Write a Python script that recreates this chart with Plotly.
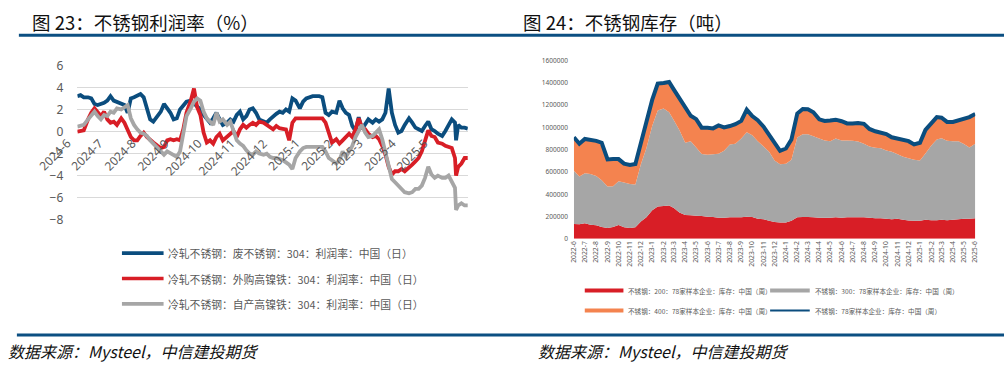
import plotly.graph_objects as go

W, H = 1008, 378

# ---------------- 图23：不锈钢利润率（%） ----------------
profit_dates = [
    "2024-06-01", "2024-06-04", "2024-06-07", "2024-06-11", "2024-06-14", "2024-06-17", "2024-06-20", "2024-06-23", "2024-06-26", "2024-06-29",
    "2024-07-02", "2024-07-05", "2024-07-08", "2024-07-12", "2024-07-15", "2024-07-18", "2024-07-21", "2024-07-24", "2024-07-27", "2024-07-30",
    "2024-08-02", "2024-08-05", "2024-08-08", "2024-08-11", "2024-08-15", "2024-08-18", "2024-08-21", "2024-08-24", "2024-08-27", "2024-08-30",
    "2024-09-02", "2024-09-05", "2024-09-08", "2024-09-11", "2024-09-15", "2024-09-18", "2024-09-21", "2024-09-24", "2024-09-27", "2024-09-30",
    "2024-10-03", "2024-10-06", "2024-10-09", "2024-10-12", "2024-10-15", "2024-10-19", "2024-10-22", "2024-10-25", "2024-10-28", "2024-10-31",
    "2024-11-03", "2024-11-06", "2024-11-09", "2024-11-12", "2024-11-15", "2024-11-18", "2024-11-22", "2024-11-25", "2024-11-28", "2024-12-01",
    "2024-12-04", "2024-12-07", "2024-12-10", "2024-12-13", "2024-12-16", "2024-12-19", "2024-12-22", "2024-12-26", "2024-12-29", "2025-01-01",
    "2025-01-04", "2025-01-07", "2025-01-10", "2025-01-13", "2025-01-16", "2025-01-19", "2025-01-22", "2025-01-25", "2025-01-29", "2025-02-01",
    "2025-02-04", "2025-02-07", "2025-02-10", "2025-02-13", "2025-02-16", "2025-02-19", "2025-02-22", "2025-02-25", "2025-02-28", "2025-03-04",
    "2025-03-07", "2025-03-10", "2025-03-13", "2025-03-16", "2025-03-19", "2025-03-22", "2025-03-25", "2025-03-28", "2025-03-31", "2025-04-03",
    "2025-04-07", "2025-04-10", "2025-04-13", "2025-04-16", "2025-04-19", "2025-04-22", "2025-04-25", "2025-04-28", "2025-05-01", "2025-05-04",
    "2025-05-08", "2025-05-11", "2025-05-14", "2025-05-17", "2025-05-20", "2025-05-21", "2025-05-23", "2025-05-26", "2025-05-29", "2025-06-01",
]
profit_scrap = [  # 冷轧不锈钢：废不锈钢：304：利润率
    3.2, 3.3, 3.1, 3.1, 3.0, 2.5, 2.4, 2.5, 2.6, 2.8,
    3.2, 2.8, 2.7, 2.5, 2.4, 1.7, 3.0, 3.1, 3.3, 3.4,
    3.1, 2.0, 1.1, 0.9, 1.5, 1.8, 2.5, 2.1, 1.7, 1.1,
    1.2, 2.0, 2.4, 2.7, 2.8, 2.5, 2.2, 2.0, 1.5, 1.1,
    0.8, 1.2, 1.7, 1.1, 0.6, 0.8, 1.1, 0.9, 1.5, 1.8,
    1.1, 1.4, 2.0, 2.1, 1.7, 1.1, 0.9, 0.8, 1.1, 1.4,
    1.6, 1.8, 1.7, 2.0, 1.8, 3.0, 2.8, 2.1, 2.7, 3.0,
    3.1, 3.2, 3.2, 3.2, 3.1, 1.7, 1.5, 1.8, 1.7, 2.8,
    2.1, 1.7, 1.5, 0.5, 0.05, 1.3, 0.2, 0.6, 1.1, 0.8,
    1.1, 0.9, 1.1, 1.7, 3.9, 1.7, 0.6, -0.1, 0.05, 0.6,
    1.2, 0.8, 0.35, 0.2, 0.05, 0.5, 0.9, 0.2, 0.05, -0.2,
    -0.4, 0.05, 0.6, 1.1, 0.8, -0.8, 0.6, 0.35, 0.35, 0.25,
]
profit_bought_nife = [  # 冷轧不锈钢：外购高镍铁：304：利润率
    0.0, 0.05, 0.1, 1.1, 1.7, 2.1, 1.8, 1.4, 1.8, 1.1,
    0.8, 0.9, 0.6, 1.2, 0.8, 0.05, -0.5, -0.8, -0.8, -0.4,
    -0.1, -0.5, -0.8, -1.0, -1.3, -1.5, -1.4, -0.8, -0.7, -0.8,
    -0.7, -0.8, 0.2, 1.7, 2.8, 3.9, 2.2, 1.5, -0.1, -1.0,
    -0.8, -1.1, -0.5, -0.2, -0.8, -0.5, -0.2, 0.05, -0.5, 0.2,
    0.6, 0.35, 0.6, 0.8, 0.6, 0.9, 0.8, 0.6, 0.5, 0.2,
    0.5, 0.3, 0.25, 0.2, -0.8, 0.8, 1.2, 1.2, 1.2, 1.2,
    1.2, 1.2, 1.2, 1.2, 1.2, 0.8, -0.2, -1.0, -0.7, -1.1,
    -0.8, -0.5, -0.2, -0.5, 0.2, 1.2, 0.35, 0.2, -0.2, -0.5,
    -0.4, -0.7, -1.3, -2.1, -3.2, -3.9, -3.6, -3.6, -3.4, -3.6,
    -3.3, -3.0, -2.7, -2.4, -1.8, -0.7, 0.1, -0.4, -0.5, -1.0,
    -1.1, -1.3, -1.4, -1.5, -2.4, -4.0, -3.2, -2.9, -2.4, -2.4,
]
profit_own_nife = [  # 冷轧不锈钢：自产高镍铁：304：利润率
    0.45, 0.5, 0.6, 1.1, 1.5, 1.8, 1.4, 1.1, 1.5, 1.4,
    1.8, 1.7, 2.1, 2.0, 2.2, 2.4, 1.2, 0.6, 0.2, -0.1,
    -0.2, -0.4, -0.8, -1.1, -1.5, -1.8, -2.1, -1.8, -2.0, -2.1,
    -2.3, -1.8, -0.1, 1.4, 2.1, 2.7, 3.0, 2.8, 1.8, 1.2,
    0.9, 0.6, 1.7, 0.9, 1.1, 0.6, 0.9, -0.1, -0.8, -1.1,
    -1.3, -1.7, -2.0, -2.1, -1.8, -2.0, -2.1, -2.0, -2.3, -2.4,
    -2.4, -2.5, -2.6, -2.8, -3.0, -3.4, -2.4, -1.8, -1.5, -1.4,
    -1.4, -1.4, -1.4, -1.4, -1.4, -1.8, -2.4, -2.6, -2.9, -2.6,
    -1.8, -2.3, -1.8, -1.3, -0.5, 0.05, 0.6, -0.1, -0.5, -0.4,
    -0.1, 0.2, -0.7, -1.8, -3.0, -4.3, -4.6, -4.9, -5.2, -5.5,
    -5.6, -5.5, -5.2, -5.2, -4.9, -4.2, -3.2, -3.9, -4.2, -4.0,
    -4.2, -4.2, -4.0, -4.5, -5.1, -7.1, -6.7, -6.5, -6.7, -6.7,
]
profit_tick_dates = ["2024-06-01", "2024-07-01", "2024-08-01", "2024-09-01", "2024-10-01", "2024-11-01",
                     "2024-12-01", "2025-01-01", "2025-02-01", "2025-03-01", "2025-04-01", "2025-05-01"]
profit_tick_labels = ["2024-6", "2024-7", "2024-8", "2024-9", "2024-10", "2024-11",
                      "2024-12", "2025-1", "2025-2", "2025-3", "2025-4", "2025-5"]
profit_names = ["冷轧不锈钢：废不锈钢：304：利润率：中国（日）",
                "冷轧不锈钢：外购高镍铁：304：利润率：中国（日）",
                "冷轧不锈钢：自产高镍铁：304：利润率：中国（日）"]

# ---------------- 图24：不锈钢库存（吨） ----------------
inv_dates = [
    "2022-06-01", "2022-06-16", "2022-07-01", "2022-07-16", "2022-08-01", "2022-08-16", "2022-09-01", "2022-09-16",
    "2022-10-01", "2022-10-16", "2022-11-01", "2022-11-16", "2022-12-01", "2022-12-16",
    "2023-01-01", "2023-01-16", "2023-02-01", "2023-02-16", "2023-03-01", "2023-03-16", "2023-04-01", "2023-04-16",
    "2023-05-01", "2023-05-16", "2023-06-01", "2023-06-16", "2023-07-01", "2023-07-16", "2023-08-01", "2023-08-16",
    "2023-09-01", "2023-09-16", "2023-10-01", "2023-10-16", "2023-11-01", "2023-11-16", "2023-12-01", "2023-12-16",
    "2024-01-01", "2024-01-16", "2024-02-01", "2024-02-16", "2024-03-01", "2024-03-16", "2024-04-01", "2024-04-16",
    "2024-05-01", "2024-05-16", "2024-06-01", "2024-06-16", "2024-07-01", "2024-07-16", "2024-08-01", "2024-08-16",
    "2024-09-01", "2024-09-16", "2024-10-01", "2024-10-16", "2024-11-01", "2024-11-16", "2024-12-01", "2024-12-16",
    "2025-01-01", "2025-01-16", "2025-02-01", "2025-02-16", "2025-03-01", "2025-03-16", "2025-04-01", "2025-04-16",
    "2025-05-01", "2025-05-16", "2025-06-01",
]
inv_200 = [  # 不锈钢：200
    133000, 130000, 139000, 127000, 121000, 107000, 98000, 107000, 124000, 104000,
    98000, 104000, 156000, 193000, 257000, 289000, 294000, 300000, 277000, 237000,
    214000, 211000, 208000, 205000, 199000, 196000, 190000, 190000, 193000, 193000,
    193000, 199000, 196000, 179000, 176000, 162000, 150000, 147000, 147000, 162000,
    193000, 196000, 196000, 193000, 188000, 190000, 190000, 193000, 190000, 193000,
    193000, 193000, 193000, 188000, 185000, 185000, 179000, 176000, 179000, 170000,
    164000, 162000, 162000, 170000, 167000, 167000, 170000, 167000, 170000, 176000,
    179000, 179000, 185000,
]
inv_300 = [  # 不锈钢：300
    479000, 430000, 450000, 456000, 444000, 418000, 372000, 366000, 392000, 401000,
    395000, 384000, 514000, 620000, 759000, 863000, 877000, 837000, 788000, 741000,
    649000, 666000, 612000, 557000, 557000, 563000, 574000, 600000, 655000, 661000,
    707000, 759000, 733000, 698000, 652000, 620000, 554000, 522000, 528000, 548000,
    718000, 744000, 744000, 727000, 713000, 692000, 687000, 707000, 692000, 690000,
    687000, 681000, 661000, 641000, 632000, 629000, 615000, 606000, 580000, 566000,
    560000, 548000, 542000, 597000, 672000, 724000, 733000, 713000, 707000, 701000,
    672000, 640000, 669000,
]
inv_400 = [  # 不锈钢：400
    300000, 294000, 309000, 309000, 314000, 338000, 242000, 242000, 199000, 170000,
    170000, 185000, 179000, 237000, 235000, 243000, 229000, 271000, 275000, 287000,
    317000, 228000, 256000, 236000, 242000, 233000, 254000, 211000, 165000, 176000,
    159000, 202000, 173000, 188000, 179000, 153000, 144000, 121000, 136000, 181000,
    213000, 226000, 222000, 217000, 173000, 176000, 185000, 170000, 173000, 153000,
    156000, 167000, 179000, 159000, 150000, 138000, 148000, 130000, 141000, 147000,
    153000, 138000, 159000, 211000, 194000, 202000, 185000, 170000, 173000, 185000,
    225000, 274000, 268000,
]
inv_total = [  # 不锈钢：78家样本企业
    912000, 854000, 897000, 892000, 880000, 863000, 713000, 716000, 716000, 675000,
    664000, 672000, 848000, 1050000, 1250000, 1394000, 1400000, 1408000, 1340000, 1265000,
    1180000, 1105000, 1075000, 998000, 998000, 992000, 1018000, 1001000, 1013000, 1030000,
    1059000, 1160000, 1102000, 1065000, 1007000, 935000, 848000, 790000, 811000, 891000,
    1125000, 1166000, 1163000, 1137000, 1073000, 1059000, 1062000, 1070000, 1056000, 1036000,
    1036000, 1041000, 1033000, 987000, 966000, 952000, 941000, 912000, 900000, 883000,
    877000, 848000, 863000, 978000, 1033000, 1093000, 1088000, 1050000, 1050000, 1062000,
    1076000, 1093000, 1122000,
]
inv_tick_dates = [
    "2022-06-01", "2022-07-01", "2022-08-01", "2022-09-01", "2022-10-01", "2022-11-01", "2022-12-01",
    "2023-01-01", "2023-02-01", "2023-03-01", "2023-04-01", "2023-05-01", "2023-06-01", "2023-07-01",
    "2023-08-01", "2023-09-01", "2023-10-01", "2023-11-01", "2023-12-01",
    "2024-01-01", "2024-02-01", "2024-03-01", "2024-04-01", "2024-05-01", "2024-06-01", "2024-07-01",
    "2024-08-01", "2024-09-01", "2024-10-01", "2024-11-01", "2024-12-01",
    "2025-01-01", "2025-02-01", "2025-03-01", "2025-04-01", "2025-05-01", "2025-06-01",
]
inv_tick_labels = [
    "2022-6", "2022-7", "2022-8", "2022-9", "2022-10", "2022-11", "2022-12",
    "2023-1", "2023-2", "2023-3", "2023-4", "2023-5", "2023-6", "2023-7",
    "2023-8", "2023-9", "2023-10", "2023-11", "2023-12",
    "2024-1", "2024-2", "2024-3", "2024-4", "2024-5", "2024-6", "2024-7",
    "2024-8", "2024-9", "2024-10", "2024-11", "2024-12",
    "2025-1", "2025-2", "2025-3", "2025-4", "2025-5", "2025-6",
]
inv_names = ["不锈钢：200：78家样本企业：库存：中国（周）",
             "不锈钢：300：78家样本企业：库存：中国（周）",
             "不锈钢：400：78家样本企业：库存：中国（周）",
             "不锈钢：78家样本企业：库存：中国（周）"]

BLUE = "#0b4d7e"
RED = "#d81e26"
GREY = "#a6a6a6"
ORANGE = "#f4834f"
RULE = "#0b4f82"
TXT = "#595959"
CJK = "Noto Sans CJK SC"


def px(x):
    return x / W


def py(y):
    return 1 - y / H


fig = go.Figure()

# left chart lines
for vals, col, nm in [(profit_scrap, BLUE, profit_names[0]),
                      (profit_bought_nife, RED, profit_names[1]),
                      (profit_own_nife, GREY, profit_names[2])]:
    fig.add_trace(go.Scatter(x=profit_dates, y=vals, mode="lines", name=nm,
                             line=dict(color=col, width=3.8), xaxis="x", yaxis="y",
                             showlegend=False))

# right chart stacked areas
for vals, col, nm in [(inv_200, RED, inv_names[0]),
                      (inv_300, GREY, inv_names[1]),
                      (inv_400, ORANGE, inv_names[2])]:
    fig.add_trace(go.Scatter(x=inv_dates, y=vals, mode="none", name=nm,
                             stackgroup="inv", fillcolor=col, line=dict(width=0),
                             xaxis="x2", yaxis="y2", showlegend=False))
fig.add_trace(go.Scatter(x=inv_dates, y=inv_total, mode="lines", name=inv_names[3],
                         line=dict(color=BLUE, width=4), xaxis="x2", yaxis="y2",
                         showlegend=False))

shapes = []
annotations = []

# header / footer rules
shapes.append(dict(type="line", xref="paper", yref="paper", x0=px(14), x1=px(1008),
                   y0=py(28.5), y1=py(28.5), line=dict(color=RULE, width=3)))
shapes.append(dict(type="line", xref="paper", yref="paper", x0=px(12), x1=px(1008),
                   y0=py(341.5), y1=py(341.5), line=dict(color=RULE, width=3)))

# titles
annotations.append(dict(xref="paper", yref="paper", x=px(25), y=py(15), text="图 23：不锈钢利润率（%）",
                        showarrow=False, xanchor="left", yanchor="middle",
                        font=dict(family=CJK, size=18.5, color="#111111")))
annotations.append(dict(xref="paper", yref="paper", x=px(521), y=py(15), text="图 24：不锈钢库存（吨）",
                        showarrow=False, xanchor="left", yanchor="middle",
                        font=dict(family=CJK, size=18.5, color="#111111")))

# sources
for sx in (1, 536):
    annotations.append(dict(xref="paper", yref="paper", x=px(sx), y=py(358),
                            text="<i>数据来源：Mysteel，中信建投期货</i>",
                            showarrow=False, xanchor="left", yanchor="middle",
                            font=dict(family=CJK, size=16, color="#111111")))

# left x labels at the zero line (rotated)
for d, lab in zip(profit_tick_dates, profit_tick_labels):
    annotations.append(dict(xref="x", yref="y", x=d, y=0, text=lab, textangle=-45,
                            showarrow=False, xanchor="right", yanchor="top", yshift=-1,
                            font=dict(family="Noto Sans", size=12, color=TXT)))

# left legend
for i, (col, nm) in enumerate(zip([BLUE, RED, GREY], profit_names)):
    yy = [256, 282.5, 309][i]
    shapes.append(dict(type="line", xref="paper", yref="paper", x0=px(118), x1=px(160),
                       y0=py(yy), y1=py(yy), line=dict(color=col, width=3.6)))
    annotations.append(dict(xref="paper", yref="paper", x=px(162), y=py(yy), text=nm,
                            showarrow=False, xanchor="left", yanchor="middle",
                            font=dict(family=CJK, size=10.8, color=TXT)))

# right legend (2 x 2)
leg_items = [(585, 624, 295, RED, 4, inv_names[0], 627),
             (772, 812, 295, GREY, 4, inv_names[1], 815),
             (585, 624, 316, ORANGE, 4, inv_names[2], 627),
             (772, 812, 316, BLUE, 2, inv_names[3], 815)]
for x0, x1, yy, col, wd, nm, tx in leg_items:
    shapes.append(dict(type="line", xref="paper", yref="paper", x0=px(x0), x1=px(x1),
                       y0=py(yy), y1=py(yy), line=dict(color=col, width=wd)))
    annotations.append(dict(xref="paper", yref="paper", x=px(tx), y=py(yy), text=nm,
                            showarrow=False, xanchor="left", yanchor="middle",
                            font=dict(family=CJK, size=6.6, color=TXT)))

fig.update_layout(
    width=W, height=H,
    margin=dict(l=0, r=0, t=0, b=0),
    paper_bgcolor="white", plot_bgcolor="white",
    showlegend=False,
    shapes=shapes, annotations=annotations,
    xaxis=dict(domain=[px(73), px(467)], type="date", range=["2024-06-01", "2025-06-01"],
               showgrid=False, zeroline=False, showticklabels=False, ticks="", showline=False,
               anchor="y"),
    yaxis=dict(domain=[py(221.5), py(59.5)], range=[-8.03, 6.03], dtick=2, tick0=0,
               showgrid=True, gridcolor="#d9d9d9", gridwidth=1, zeroline=False,
               tickfont=dict(family="Noto Sans", size=12, color=TXT), ticklabelstandoff=13,
               anchor="x"),
    xaxis2=dict(domain=[px(574), px(979)], type="date", range=["2022-06-01", "2025-06-01"],
                tickvals=inv_tick_dates, ticktext=inv_tick_labels, tickangle=-90,
                tickfont=dict(family="Noto Sans", size=6.8, color=TXT),
                showgrid=False, zeroline=False, ticks="", showline=False, anchor="y2"),
    yaxis2=dict(domain=[py(241), py(55)], range=[0, 1600000], dtick=200000, tickformat="d",
                tickfont=dict(family="Noto Sans", size=6.5, color=TXT), ticklabelstandoff=5,
                showgrid=False, zeroline=False, showline=False, anchor="x2"),
)

fig.write_html("out.html", config={"displayModeBar": False},
               post_script="document.body.style.margin='0px';")
